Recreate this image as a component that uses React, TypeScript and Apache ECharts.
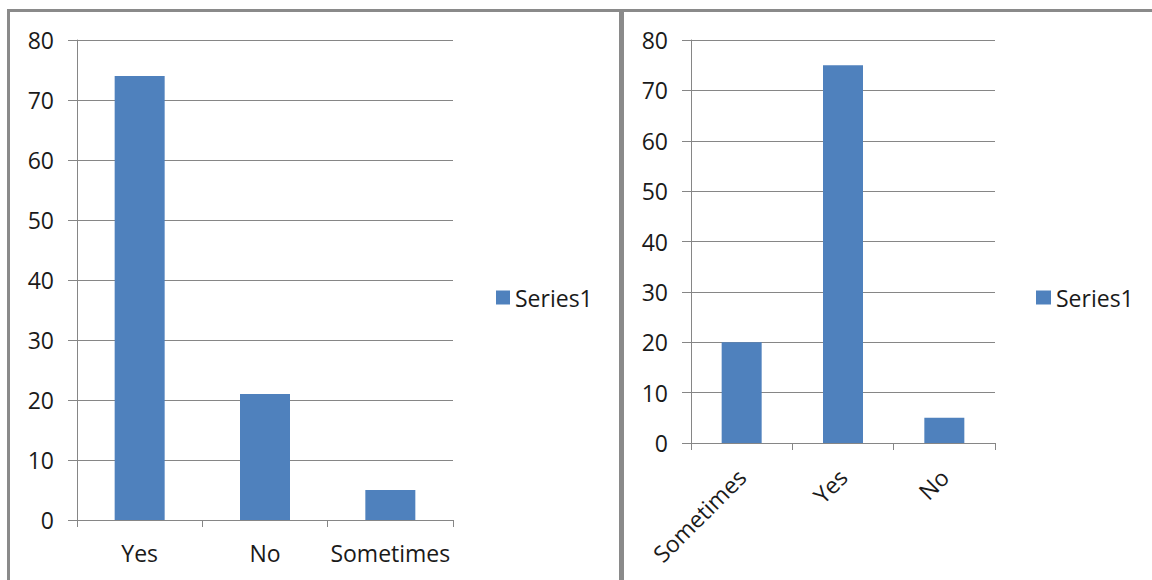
import React, { useEffect, useRef } from "react";
import * as echarts from "echarts";

// Survey answers, two sheets
const leftCategories = ["Yes", "No", "Sometimes"];
const leftValues = [74, 21, 5];
const rightCategories = ["Sometimes", "Yes", "No"];
const rightValues = [20, 75, 5];
const seriesName = "Series1";
const yMin = 0;
const yMax = 80;
const yStep = 10;

const FONT = "'Open Sans', 'Noto Sans', sans-serif";
const BAR = "#4F81BD";
const GRID = "#868686";
const TEXT = "#1a1a1a";
const FRAME = "#8a8a8a";

function yAxisFor(gridIndex: number) {
  return {
    type: "value" as const,
    gridIndex,
    min: yMin,
    max: yMax,
    interval: yStep,
    axisLine: { show: true, lineStyle: { color: GRID, width: 1 } },
    axisTick: { show: true, length: 9, lineStyle: { color: GRID } },
    splitLine: { show: true, lineStyle: { color: GRID, width: 1 } },
    axisLabel: { color: TEXT, fontSize: 23, fontFamily: FONT, margin: 23 },
  };
}

export default function App() {
  const ref = useRef<HTMLDivElement>(null);

  useEffect(() => {
    if (!ref.current) return;
    const chart = echarts.init(ref.current, undefined, { renderer: "svg" });
    chart.setOption({
      animation: false,
      backgroundColor: "#ffffff",
      graphic: [
        // panel frames
        { type: "rect", shape: { x: 7, y: 9, width: 3, height: 600 }, style: { fill: FRAME } },
        { type: "rect", shape: { x: 7, y: 9, width: 1160, height: 3 }, style: { fill: FRAME } },
        { type: "rect", shape: { x: 619, y: 9, width: 5, height: 600 }, style: { fill: FRAME } },
      ],
      legend: [
        {
          left: 496,
          top: 286,
          padding: 0,
          itemWidth: 14,
          itemHeight: 14,
          icon: "rect",
          data: [seriesName],
          textStyle: { color: TEXT, fontSize: 23, fontFamily: FONT },
          selectedMode: false,
        },
        {
          left: 1036,
          top: 286,
          padding: 0,
          itemWidth: 15,
          itemHeight: 14,
          icon: "rect",
          data: [seriesName],
          textStyle: { color: TEXT, fontSize: 23, fontFamily: FONT },
          selectedMode: false,
        },
      ],
      grid: [
        { left: 77, top: 40, width: 376, height: 480 },
        { left: 691, top: 40, width: 304, height: 403 },
      ],
      xAxis: [
        {
          type: "category",
          gridIndex: 0,
          data: leftCategories,
          axisLine: { show: true, lineStyle: { color: GRID } },
          axisTick: { show: true, length: 7, lineStyle: { color: GRID } },
          axisLabel: {
            color: TEXT,
            fontSize: 23,
            fontFamily: FONT,
            margin: 21,
            interval: 0,
            hideOverlap: false,
          },
        },
        {
          type: "category",
          gridIndex: 1,
          data: rightCategories,
          axisLine: { show: true, lineStyle: { color: GRID } },
          axisTick: { show: true, length: 7, lineStyle: { color: GRID } },
          axisLabel: {
            color: TEXT,
            fontSize: 23,
            fontFamily: FONT,
            rotate: 45,
            margin: 30,
            interval: 0,
            hideOverlap: false,
          },
        },
      ],
      yAxis: [yAxisFor(0), yAxisFor(1)],
      series: [
        {
          name: seriesName,
          type: "bar",
          xAxisIndex: 0,
          yAxisIndex: 0,
          data: leftValues,
          barWidth: 50,
          itemStyle: { color: BAR },
        },
        {
          name: seriesName,
          type: "bar",
          xAxisIndex: 1,
          yAxisIndex: 1,
          data: rightValues,
          barWidth: 40,
          itemStyle: { color: BAR },
        },
      ],
    });
    return () => chart.dispose();
  }, []);

  return (
    <div
      ref={ref}
      style={{ position: "fixed", left: 0, top: 0, width: 1152, height: 580, background: "#fff" }}
    />
  );
}
